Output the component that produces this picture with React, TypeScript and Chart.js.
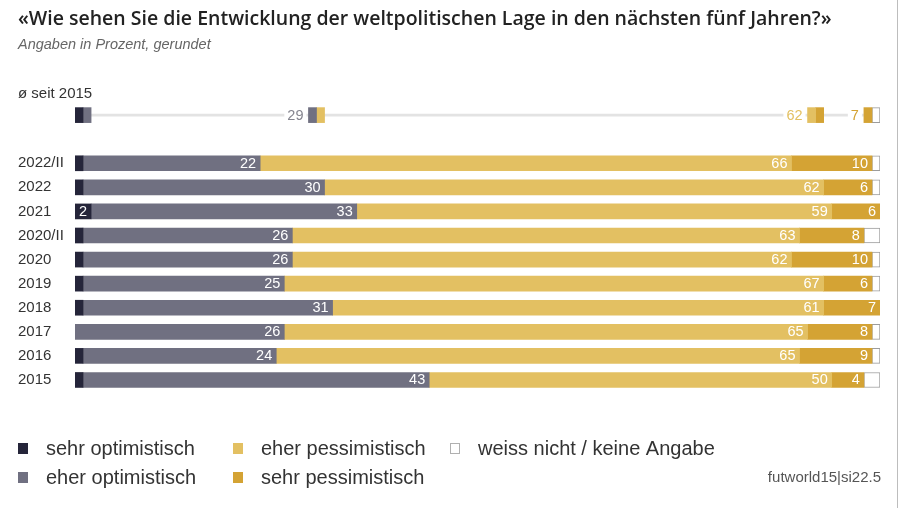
import React, { useEffect, useRef } from "react";
import { Chart, registerables } from "chart.js";

Chart.register(...registerables);

// ---------- data ----------
const titleText = "«Wie sehen Sie die Entwicklung der weltpolitischen Lage in den nächsten fünf Jahren?»";
const subtitleText = "Angaben in Prozent, gerundet";
const averageLabel = "ø seit 2015";
const sourceText = "futworld15|si22.5";

const categories = ["2022/II", "2022", "2021", "2020/II", "2020", "2019", "2018", "2017", "2016", "2015"];
const sehrOptimistisch = [1, 1, 2, 1, 1, 1, 1, 0, 1, 1];
const eherOptimistisch = [22, 30, 33, 26, 26, 25, 31, 26, 24, 43];
const eherPessimistisch = [66, 62, 59, 63, 62, 67, 61, 65, 65, 50];
const sehrPessimistisch = [10, 6, 6, 8, 10, 6, 7, 8, 9, 4];
const weissNicht = [1, 1, 0, 2, 1, 1, 0, 1, 1, 2];

// average since 2015: sehr opt, eher opt, eher pess, sehr pess, weiss nicht
const averageValues = [1, 29, 62, 7, 1];

const seriesNames = [
  "sehr optimistisch",
  "eher optimistisch",
  "eher pessimistisch",
  "sehr pessimistisch",
  "weiss nicht / keine Angabe",
];
const seriesColors = ["#25253a", "#707081", "#e3c062", "#d4a334", "#ffffff"];
const whiteBorder = "#9c9c9c";

const FONT = '"Liberation Sans", Arial, Helvetica, sans-serif';

export default function App() {
  const canvasRef = useRef<HTMLCanvasElement>(null);

  useEffect(() => {
    const canvas = canvasRef.current;
    if (!canvas) return;

    const lead = 3; // rows: average label, average markers, spacer
    const yLabels = ["", " ", "  ", ...categories];
    const n = yLabels.length;

    const series = [sehrOptimistisch, eherOptimistisch, eherPessimistisch, sehrPessimistisch, weissNicht];

    const mainDatasets: any[] = series.map((vals, s) => {
      const data: (number | null)[] = new Array(n).fill(null);
      vals.forEach((v, i) => {
        data[lead + i] = v === 0 ? null : v;
      });
      return {
        label: seriesNames[s],
        data,
        backgroundColor: seriesColors[s],
        borderColor: s === 4 ? whiteBorder : seriesColors[s],
        borderWidth: s === 4 ? 1 : 0,
        borderSkipped: false,
        stack: "main",
        maxBarThickness: 15,
        categoryPercentage: 1,
        barPercentage: 1,
        order: 1,
      };
    });

    // average markers at each segment boundary
    const markerDatasets: any[] = [];
    const avgLabelInfo: { dsIndex: number; value: number; color: string }[] = [];
    let cum = 0;
    for (let k = 0; k < averageValues.length - 1; k++) {
      cum += averageValues[k];
      const pair: [number, number, number][] = [
        [k, cum - 1, cum],
        [k + 1, cum, cum + 1],
      ];
      pair.forEach(([c, a, b], j) => {
        const data: any[] = new Array(n).fill(null);
        data[1] = [a, b];
        const idx = mainDatasets.length + markerDatasets.length;
        markerDatasets.push({
          label: "avg" + k + "-" + j,
          data,
          backgroundColor: seriesColors[c],
          borderColor: c === 4 ? whiteBorder : seriesColors[c],
          borderWidth: c === 4 ? 1 : 0,
          borderSkipped: false,
          stack: "m" + k + "-" + j,
          grouped: false,
          maxBarThickness: 15,
          categoryPercentage: 1,
          barPercentage: 1,
          order: 1,
        });
        if (j === 0 && k >= 1) {
          avgLabelInfo.push({ dsIndex: idx, value: averageValues[k], color: seriesColors[k] });
        }
      });
    }

    const lineData: any[] = new Array(n).fill(null);
    lineData[1] = [averageValues[0] + 1, 100 - averageValues[averageValues.length - 1]];
    const lineDataset = {
      label: "avg-line",
      data: lineData,
      backgroundColor: "#e3e3e3",
      borderWidth: 0,
      stack: "line",
      grouped: false,
      maxBarThickness: 2,
      categoryPercentage: 1,
      barPercentage: 1,
      order: 10,
    };

    const labelsPlugin = {
      id: "valueLabels",
      afterDatasetsDraw(chart: any) {
        const ctx = chart.ctx;
        ctx.save();
        ctx.font = "14.5px " + FONT;
        ctx.textBaseline = "middle";
        for (let s = 0; s < 4; s++) {
          const meta = chart.getDatasetMeta(s);
          const ds = chart.data.datasets[s];
          meta.data.forEach((el: any, i: number) => {
            const v = ds.data[i];
            if (v == null || v < 2) return;
            const p = el.getProps(["x", "base", "y"], true);
            const right = Math.max(p.x, p.base);
            ctx.fillStyle = "#ffffff";
            ctx.textAlign = "right";
            ctx.fillText(String(v), right - 4, p.y + 0.5);
          });
        }
        // average labels
        avgLabelInfo.forEach((info) => {
          const meta = chart.getDatasetMeta(info.dsIndex);
          const el = meta.data[1];
          const p = el.getProps(["x", "base", "y"], true);
          const left = Math.min(p.x, p.base);
          const txt = String(info.value);
          const w = ctx.measureText(txt).width;
          ctx.fillStyle = "#ffffff";
          ctx.fillRect(left - 5 - w - 3, p.y - 8, w + 6, 16);
          ctx.fillStyle = info.color === "#707081" ? "#85858f" : info.color;
          ctx.textAlign = "right";
          ctx.fillText(txt, left - 5, p.y + 0.5);
        });
        // average row caption
        const yScale = chart.scales.y;
        ctx.font = "15px " + FONT;
        ctx.fillStyle = "#333333";
        ctx.textAlign = "left";
        ctx.fillText(averageLabel, 18, yScale.getPixelForValue(0) + 2.5);
        ctx.restore();
      },
    };

    const legendPlugin = {
      id: "customLegend",
      afterDraw(chart: any) {
        const ctx = chart.ctx;
        ctx.save();
        ctx.font = "20px " + FONT;
        ctx.textBaseline = "middle";
        ctx.textAlign = "left";
        const layout: [number, number, number][] = [
          [0, 18, 448],
          [2, 233, 448],
          [4, 450, 448],
          [1, 18, 477],
          [3, 233, 477],
        ];
        layout.forEach(([s, x, y]) => {
          ctx.fillStyle = seriesColors[s];
          ctx.fillRect(x, y - 5, 10, 11);
          if (s === 4) {
            ctx.strokeStyle = "#b0b0b0";
            ctx.lineWidth = 1;
            ctx.strokeRect(x + 0.5, y - 4.5, 9, 10);
          }
          ctx.fillStyle = "#333333";
          ctx.fillText(chart.data.datasets[s].label, x + 28, y + 1);
        });
        ctx.font = "15px " + FONT;
        ctx.fillStyle = "#555555";
        ctx.textAlign = "right";
        ctx.fillText(sourceText, 881, 478);
        // right frame line
        ctx.strokeStyle = "#bdbdbd";
        ctx.lineWidth = 1;
        ctx.beginPath();
        ctx.moveTo(897.5, 0);
        ctx.lineTo(897.5, 508);
        ctx.stroke();
        ctx.restore();
      },
    };

    const chart = new Chart(canvas, {
      type: "bar",
      data: {
        labels: yLabels,
        datasets: [...mainDatasets, ...markerDatasets, lineDataset],
      },
      options: {
        indexAxis: "y",
        responsive: false,
        animation: false,
        devicePixelRatio: 1,
        layout: { padding: { left: 18, right: 20, top: 0, bottom: 116 } },
        plugins: {
          legend: { display: false },
          tooltip: { enabled: false },
          title: {
            display: true,
            text: titleText,
            align: "start",
            color: "#222222",
            font: { family: '"Open Sans", ' + FONT, size: 19.5, weight: 600, lineHeight: 1.2 },
            padding: { top: 7.5, bottom: 5.4 },
          },
          subtitle: {
            display: true,
            text: subtitleText,
            align: "start",
            color: "#666666",
            font: { family: FONT, size: 14.5, style: "italic", lineHeight: 1.2 },
            padding: { top: 0, bottom: 25.3 },
          },
        },
        scales: {
          x: { stacked: true, min: 0, max: 100, display: false },
          y: {
            stacked: true,
            grid: { display: false },
            border: { display: false },
            ticks: {
              autoSkip: false,
              crossAlign: "far",
              color: "#333333",
              padding: 0,
              font: { family: FONT, size: 15 },
            },
            afterFit: (scale: any) => {
              scale.width = 57;
            },
          },
        },
      } as any,
      plugins: [labelsPlugin, legendPlugin],
    });

    return () => chart.destroy();
  }, []);

  return (
    <div style={{ position: "fixed", left: 0, top: 0, width: 900, height: 508, background: "#ffffff" }}>
      <canvas ref={canvasRef} width={900} height={508} style={{ width: 900, height: 508, display: "block" }} />
    </div>
  );
}
